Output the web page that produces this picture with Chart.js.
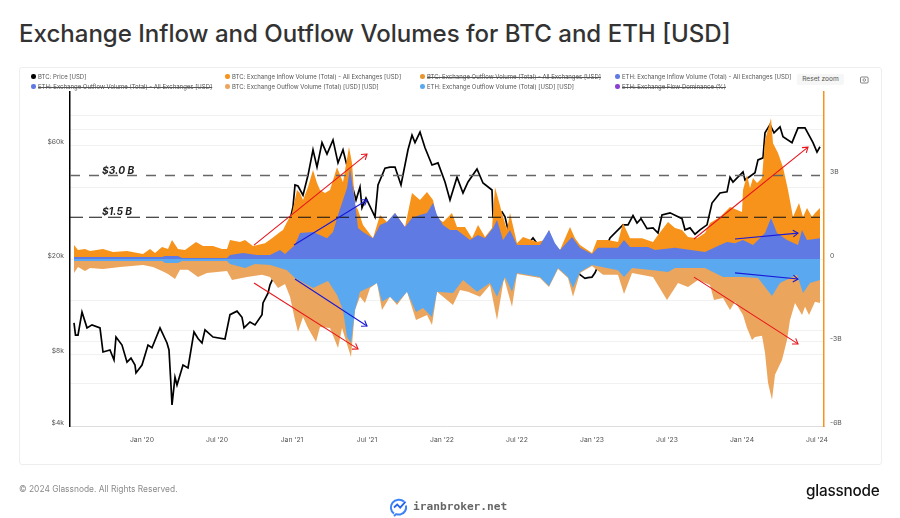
<!DOCTYPE html>
<html><head><meta charset="utf-8">
<style>
html,body{margin:0;padding:0;background:#fff;width:900px;height:518px;overflow:hidden;font-family:Inter,sans-serif}
.abs{position:absolute;white-space:nowrap}
#card{left:19px;top:67px;width:861px;height:396px;border:1px solid #eeeeee;border-radius:3px;box-sizing:content-box}
#title{left:19px;top:18px;font-size:24.05px;font-weight:500;color:#333;line-height:31px}
.lg{font-size:6px;color:#555;line-height:8px}
.lg.off{text-decoration:line-through}
.dot{width:4.5px;height:4.5px;border-radius:50%}
.thr{font-size:10.2px;font-weight:700;font-style:italic;color:#222;line-height:14px}
#c{position:absolute;left:0;top:0}
</style></head><body>
<div class="abs" id="title">Exchange Inflow and Outflow Volumes for BTC and ETH [USD]</div>
<div class="abs" id="card"></div>
<canvas id="c" width="900" height="518"></canvas>
<div id="legend"></div>
<div class="abs thr" style="left:102px;top:163px">$3.0 B</div>
<div class="abs thr" style="left:102px;top:204px">$1.5 B</div>
<div class="abs" style="left:797px;top:74px;width:47px;height:11px;background:#f6f6f6;border-radius:2px;font-size:6.6px;line-height:11px;text-align:center;color:#555">Reset zoom</div>
<svg class="abs" style="left:860px;top:76px" width="9" height="8" viewBox="0 0 9 8"><rect x=".5" y="1" width="7.6" height="6" rx="1" fill="none" stroke="#666" stroke-width=".8"/><circle cx="4.3" cy="4" r="1.3" fill="none" stroke="#666" stroke-width=".7"/></svg>
<div class="abs" style="left:19px;top:483px;font-size:8.4px;line-height:12px;color:#8a8a8a">© 2024 Glassnode. All Rights Reserved.</div>
<div class="abs" style="left:806px;top:480px;font-size:15.3px;line-height:22px;font-weight:500;color:#111;letter-spacing:-.2px">glassnode</div>
<svg class="abs" style="left:389px;top:498px" width="20" height="19" viewBox="0 0 20 19"><path d="M15 3.5C12 .8 6.5 1 3.6 4.6.8 8.2 1.6 13.2 5 15.6" fill="none" stroke="#3b82f6" stroke-width="2"/><path d="M5 9.5l3.2-3 3 3.2 5.3-6" fill="none" stroke="#2563eb" stroke-width="1.8"/><path d="M17 7.5c.8 4-1.6 8-5.5 8.9-1.5.3-3 .2-4.3-.3L5 18" fill="none" stroke="#3b82f6" stroke-width="2"/></svg>
<div class="abs" style="left:413px;top:499px;font-family:'DejaVu Sans Mono',monospace;font-size:11.2px;line-height:16px;font-weight:700;color:#666">iranbroker.net</div>
<script src="https://cdn.jsdelivr.net/npm/chart.js@4/dist/chart.umd.min.js"></script>
<script>
// Time axis: months since Jan 2020
const tickMonths=[0,6,12,18,24,30,36,42,48,54];
const tickLabels=["Jan '20","Jul '20","Jan '21","Jul '21","Jan '22","Jul '22","Jan '23","Jul '23","Jan '24","Jul '24"];
const priceTicks=[4000,6000,8000,9000,10000,13400,20000,40000,60000,70000,80000];
const priceLabels=[4000,8000,20000,60000];

const priceMonths=[-5.44,-5.32,-5.12,-4.8,-4.4,-4,-3.36,-3.12,-2.56,-2.24,-2.08,-1.6,-1.2,-.88,-.56,-.48,0,.48,.8,1.44,2,2.16,2.32,2.4,2.64,2.8,3.28,3.68,4.16,4.48,4.8,5.04,5.68,6.64,7.04,7.6,8,8.16,8.64,9.04,9.6,9.68,10.08,10.24,11.04,12.08,12.24,12.48,12.88,13.28,13.68,14,14.4,14.8,15.28,15.68,16.08,16.48,17.12,17.44,17.6,17.92,18.64,18.88,19.44,19.84,20.24,20.72,21.28,21.6,21.84,22.24,22.64,23.2,23.68,24.24,24.64,25.2,25.68,26.08,26.8,27.28,28,28.08,28.8,29.04,29.28,30.24,31.28,32.48,33.44,34.48,35.04,35.44,35.68,36,36.24,37.44,38.48,38.88,39.28,39.6,39.92,40.4,40.88,41.28,41.6,42.24,43.2,43.44,43.84,44.24,44.64,45.2,45.6,46.24,46.8,47.04,47.28,48.08,48.24,49.04,49.28,49.68,49.84,50.24,50.56,51.04,51.28,52,52.48,53.04,53.68,54,54.24];
const priceUsd=[10800,9600,9600,12000,10300,10600,10300,8160,8320,7560,9430,8730,7400,7700,7200,6670,7200,8730,8500,10300,8900,8320,5900,4900,6400,5940,7200,7000,9900,9300,8900,10100,9430,9250,11700,12100,11400,10300,10900,10600,11700,13100,14400,15600,19200,33000,40800,40400,37000,44800,57300,48500,61400,55000,63000,50500,57300,47200,35300,40000,32800,36000,30000,40800,48000,48500,48500,40800,57300,66000,61400,68000,58400,49500,50500,42000,35300,44000,37800,42000,47600,41600,38900,30000,31500,30000,26500,21000,24500,20000,19500,19000,17200,16600,16700,16800,17500,24500,27800,27800,30400,28300,29500,26800,27000,25700,30600,31200,29500,26500,27000,25400,26500,27800,34300,37800,38200,44000,42000,46300,42800,45900,52000,53000,67500,73000,67500,71500,65000,61400,70800,70800,61400,56000,59000];

const btcInflowMonths=[-5.44,-5.12,-4.56,-4.16,-3.12,-2.32,-1.2,.08,.64,1.04,1.6,2.08,2.4,2.88,3.44,4.32,4.88,5.68,6.4,6.8,7.04,7.84,8.24,8.88,9.84,10.4,11.04,11.28,11.6,12,12.4,12.64,12.88,13.28,13.68,14,14.24,14.64,15.04,15.6,16.08,16.56,16.8,17.04,17.28,17.68,18.48,19.04,19.6,20.24,21.04,21.6,22.24,22.8,23.28,23.6,24.08,24.8,25.2,25.84,26.4,26.88,27.44,28,28.24,28.8,29.2,29.44,30,30.48,31.6,32.24,32.56,32.88,33.44,34.24,34.64,35.04,36,36.4,37.28,38.08,38.48,39.04,40,40.88,41.28,42.08,42.64,43.2,43.68,44.4,45.04,45.44,46.24,47.04,48,48.08,48.4,48.64,48.88,49.2,49.6,49.84,50.32,50.48,50.88,51.28,51.68,52.08,52.56,52.88,53.2,53.6,53.84,54.24];
const btcInflowB=[.5,.32,.36,.29,.36,.25,.29,.18,.36,.22,.43,.36,.68,.36,.32,.61,.47,.47,.36,.36,.68,.61,.68,.47,.57,.75,.97,1.04,1.33,1.65,2.48,2.37,2.12,2.59,3.2,2.73,2.48,2.37,2.48,3.3,2.76,4.02,3.45,1.94,1.76,1.22,.75,1.58,1.33,1.65,1.15,2.37,2.12,2.41,2.12,1.47,1.33,1.65,1.15,1.15,.75,1.22,.79,1.11,2.58,1.65,1.04,1.65,.57,.79,.61,.68,1.04,.61,.32,1.15,.75,.5,.22,.68,.68,.61,1.29,.75,.75,.61,.86,1.33,1.11,1.04,.79,.75,.93,1.29,1.51,1.87,1.69,2.48,3.02,2.55,2.91,2.73,2.91,4.27,5.06,4.16,3.81,3.3,2.48,1.51,2.01,1.51,1.83,1.51,1.65,1.83];

const ethInflowMonths=[-5.44,1.6,1.84,2.88,3.2,6.8,7.04,8.08,9.2,10.24,11.04,11.44,12.24,12.64,13.68,14.8,15.28,15.68,16.08,16.4,16.64,17.04,17.28,17.68,18.48,19.04,19.6,20.24,21.04,21.6,22.24,22.8,23.28,23.6,24.08,24.64,25.2,26.24,26.88,27.44,28.08,28.4,28.88,29.44,30,31.84,32.56,33.04,33.44,34.4,35.04,36,36.48,38.08,38.56,39.04,40.48,41.04,42.64,45.04,46.24,46.8,47.44,48.08,48.88,49.84,50.32,50.8,51.6,52.48,52.8,53.2,54.24];
const ethInflowB=[.07,.07,.11,.11,.04,.04,.14,.22,.14,.14,.32,.18,.5,.93,.97,.75,.97,1.58,2.12,2.55,3.27,2.05,1.11,.97,.75,1.22,1.33,1.65,1.15,1.47,1.58,1.65,2.01,1.58,1.22,1.04,1.04,.68,.86,.75,1.11,1.4,.68,1.04,.5,.5,1.04,.57,.32,.79,.4,.18,.4,.4,.68,.43,.43,.32,.4,.25,.5,.61,.57,.68,.5,.93,1.47,.93,.68,.5,1.04,.68,.75];

const btcOutflowMonths=[-5.44,-5.12,-4.56,-4.16,-3.12,-1.76,.08,.88,1.6,2.08,2.64,3.04,3.68,4.48,5.2,6.8,7.2,8.4,9.6,10.24,10.88,11.44,11.84,12.24,12.48,12.88,13.28,13.92,14.24,15.04,15.68,16,16.72,17.04,17.44,17.84,18.24,18.8,19.2,19.84,20.4,21.2,21.92,22.8,23.2,23.6,24.88,25.44,26.08,27.04,27.84,28.4,28.96,29.6,30,31.84,32.56,33.28,34.08,34.48,35.04,36,36.88,38.08,38.56,39.2,40.88,42,42.88,43.68,44.48,45.44,45.76,46.48,47.04,47.44,48.08,48.4,48.8,49.04,49.6,49.84,50.08,50.4,50.64,51.2,51.6,51.84,52.24,52.8,53.04,53.36,53.84,54.24];
const btcOutflowB=[-.5,-.29,-.43,-.32,-.36,-.29,-.22,-.29,-.43,-.54,-.72,-.39,-.39,-.65,-.5,-.43,-.75,-.65,-.57,-.65,-1.04,-.9,-1.36,-2.19,-2.62,-2.08,-2.48,-2.98,-2.44,-2.48,-3.2,-2.48,-3.52,-1.83,-1.36,-1.58,-1.04,-.86,-1.83,-1.36,-1.65,-1.18,-2.19,-2.01,-2.37,-1.18,-1.65,-1.11,-1.18,-1.36,-.93,-2.19,-.68,-1.72,-.54,-.68,-1.01,-.36,-.68,-1.36,-.5,-.25,-.57,-.57,-1.26,-.5,-.65,-1.47,-.86,-1.01,-.75,-.93,-1.47,-1.4,-1.83,-1.54,-2.01,-2.48,-2.91,-2.8,-2.76,-3.37,-4.45,-5.06,-4.16,-3.63,-2.91,-2.19,-1.58,-2.01,-1.72,-2.01,-1.54,-1.58];

const ethOutflowMonths=[-5.44,1.6,1.84,2.88,3.2,6.8,7.04,8.24,9.04,10.24,11.04,11.6,12.24,13.68,14.88,15.6,16.08,16.4,16.72,17.04,17.44,18.24,18.8,19.2,19.84,20.4,21.2,21.92,22.48,23.2,23.6,24.88,25.68,26.8,27.84,28.4,29.04,29.6,30,31.84,32.56,33.28,34.08,34.48,35.04,36,38.08,38.56,39.2,40.88,42.08,42.64,45.04,46.48,48.08,49.28,50.4,51.04,52.4,52.88,53.44,54.24];
const ethOutflowB=[-.07,-.07,-.14,-.14,-.07,-.07,-.18,-.32,-.18,-.22,-.32,-.4,-.68,-1.04,-.79,-1.29,-1.83,-2.8,-3.02,-1.83,-1.18,-1.01,-.86,-1.54,-1.36,-1.58,-1.18,-1.9,-1.76,-2.08,-1.18,-1.22,-.75,-1.18,-.86,-1.36,-.65,-1.18,-.5,-.65,-.97,-.32,-.65,-1.04,-.47,-.22,-.4,-.65,-.32,-.4,-.47,-.32,-.32,-.65,-.65,-.68,-1.33,-.86,-.57,-1.22,-.86,-.75];

const thresholdMonths=[-5.76,54.24];
const threshold3B=[3,3];
const threshold15B=[1.5,1.5];

const arrowRedUpMonths=[8.96,18],arrowRedUpB=[.5,3.77];
const arrowBlueUpMonths=[12.16,18],arrowBlueUpB=[.5,2.12];
const arrowRedDownMonths=[8.96,17.28],arrowRedDownB=[-.86,-3.23];
const arrowBlueDownMonths=[12.24,18],arrowBlueDownB=[-.72,-2.41];
const arrowRedUp2Months=[44.16,53.28],arrowRedUp2B=[.72,4.02];
const arrowBlueUp2Months=[47.44,52.48],arrowBlueUp2B=[.72,.93];
const arrowRedDown2Months=[44.16,52.48],arrowRedDown2B=[-.65,-3.05];
const arrowBlueDown2Months=[47.44,52.48],arrowBlueDown2B=[-.5,-.72];

const legendNames=["BTC: Price [USD]","BTC: Exchange Inflow Volume (Total) - All Exchanges [USD]","BTC: Exchange Outflow Volume (Total) - All Exchanges [USD]","ETH: Exchange Inflow Volume (Total) - All Exchanges [USD]","ETH: Exchange Outflow Volume (Total) - All Exchanges [USD]","BTC: Exchange Outflow Volume (Total) [USD] [USD]","ETH: Exchange Outflow Volume (Total) [USD] [USD]","ETH: Exchange Flow Dominance (%)"];
const legendColors=["#000000","#f7931a","#e8952e","#5f7ae3","#5f7ae3","#eba55c","#5aa9f0","#8a3fd1"];
const legendHidden=[0,0,1,0,1,0,0,1];
const legendLeft=[31,225,420,615];

const legendEl=document.getElementById('legend');
legendNames.forEach((n,i)=>{
  const col=legendLeft[i%4],top=i<4?72.5:82.5;
  legendEl.insertAdjacentHTML('beforeend',`<div class="abs dot" style="left:${col}px;top:${top+1.7}px;background:${legendColors[i]}"></div><div class="abs lg${legendHidden[i]?' off':''}" style="left:${col+7}px;top:${top}px">${n}</div>`);
});

const pts=(xs,ys)=>xs.map((x,i)=>({x,y:ys[i]}));
const area=(xs,ys,color,order)=>({data:pts(xs,ys),yAxisID:'yR',borderWidth:0,backgroundColor:color,fill:'origin',pointRadius:0,order,tension:0});
const dash=(ys,color,width,d)=>({data:pts(thresholdMonths,ys),yAxisID:'yR',borderColor:color,borderWidth:width,borderDash:d,pointRadius:0,fill:false,order:3});
const arrow=(xs,ys,color)=>({data:pts(xs,ys),yAxisID:'yR',borderColor:color,borderWidth:1.1,pointRadius:0,fill:false,order:1,arrowHead:true});

const arrowHeads={id:'arrowHeads',afterDatasetsDraw(chart){
  const g=chart.ctx;
  chart.data.datasets.forEach((d,i)=>{
    if(!d.arrowHead)return;
    const p=chart.getDatasetMeta(i).data,a=p[0],b=p[1];
    const ang=Math.atan2(b.y-a.y,b.x-a.x),s=6;
    g.save();g.strokeStyle=d.borderColor;g.lineWidth=1.1;g.beginPath();
    g.moveTo(b.x-s*Math.cos(ang-.6),b.y-s*Math.sin(ang-.6));
    g.lineTo(b.x,b.y);
    g.lineTo(b.x-s*Math.cos(ang+.6),b.y-s*Math.sin(ang+.6));
    g.stroke();g.restore();
  });
}};

Chart.defaults.font.family='Inter, sans-serif';
new Chart(document.getElementById('c'),{
  type:'line',
  data:{datasets:[
    {data:pts(priceMonths,priceUsd),yAxisID:'yL',borderColor:'#000',borderWidth:1.7,pointRadius:0,fill:false,order:20,tension:0},
    area(btcInflowMonths,btcInflowB,'#f7931a',10),
    area(ethInflowMonths,ethInflowB,'#5f7ae3',9),
    area(btcOutflowMonths,btcOutflowB,'#eba55c',8),
    area(ethOutflowMonths,ethOutflowB,'#5aa9f0',7),
    dash(threshold3B,'#666666',1.4,[10,9]),
    dash(threshold15B,'#111111',1.1,[13,6]),
    arrow(arrowRedUpMonths,arrowRedUpB,'#e8141c'),
    arrow(arrowBlueUpMonths,arrowBlueUpB,'#1a1ad8'),
    arrow(arrowRedDownMonths,arrowRedDownB,'#e8141c'),
    arrow(arrowBlueDownMonths,arrowBlueDownB,'#1a1ad8'),
    arrow(arrowRedUp2Months,arrowRedUp2B,'#e8141c'),
    arrow(arrowBlueUp2Months,arrowBlueUp2B,'#1a1ad8'),
    arrow(arrowRedDown2Months,arrowRedDown2B,'#e8141c'),
    arrow(arrowBlueDown2Months,arrowBlueDown2B,'#1a1ad8')
  ]},
  plugins:[arrowHeads],
  options:{
    responsive:false,animation:false,devicePixelRatio:1,
    layout:{padding:{top:92}},
    plugins:{legend:{display:false},tooltip:{enabled:false}},
    scales:{
      x:{type:'linear',min:-5.76,max:54.56,
        grid:{display:false,drawTicks:false},
        border:{display:true,color:'#dddddd',width:1},
        afterBuildTicks(s){s.ticks=tickMonths.map(v=>({value:v}));},
        afterFit(s){s.height=92;},
        ticks:{autoSkip:false,maxRotation:0,padding:10,font:{size:6.8},color:'#555',callback:v=>tickLabels[tickMonths.indexOf(v)]}},
      yL:{type:'logarithmic',position:'left',min:4000,max:100000,
        grid:{color:'#f1f1f1',lineWidth:1,drawTicks:false},
        border:{display:true,color:'#000',width:1.5},
        afterBuildTicks(s){s.ticks=priceTicks.map(v=>({value:v}));},
        afterFit(s){s.width=70;},
        ticks:{autoSkip:false,padding:6,labelOffset:-3.5,font:{size:6.8},color:'#555',callback:v=>priceLabels.includes(v)?'$'+v/1000+'k':''}},
      yR:{type:'linear',position:'right',min:-6,max:6,
        grid:{display:false,drawTicks:false},
        border:{display:true,color:'#f7931a',width:1.5},
        afterFit(s){s.width=76;},
        ticks:{stepSize:3,padding:6,labelOffset:-3.5,font:{size:6.8},color:'#555',callback:v=>v===6?'':(v===0?'0':v+'B')}}
    }
  }
});
</script>
</body></html>
